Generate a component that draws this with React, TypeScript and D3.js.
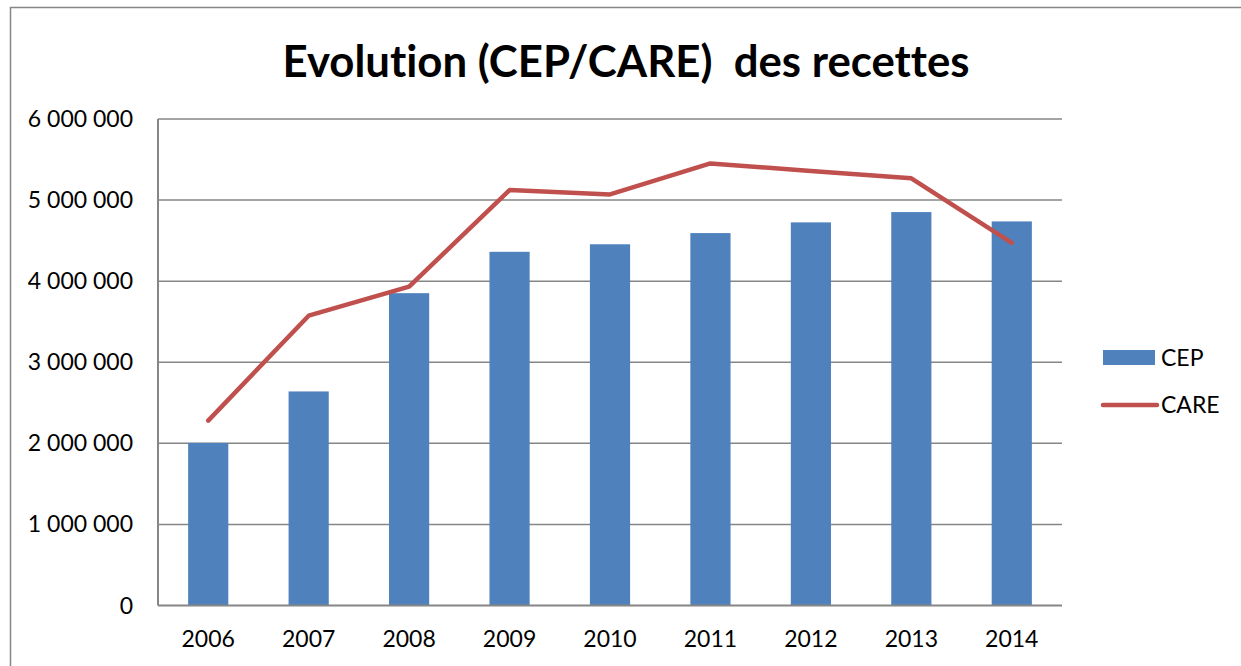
import React, { useEffect } from "react";
import * as d3 from "d3";

const years = ["2006", "2007", "2008", "2009", "2010", "2011", "2012", "2013", "2014"];
const cep = [2005000, 2640000, 3852000, 4362000, 4455000, 4593000, 4725000, 4852000, 4737000];
const care = [2280000, 3574000, 3932000, 5123000, 5070000, 5452000, 5360000, 5268000, 4473000];
const yTicks = [0, 1000000, 2000000, 3000000, 4000000, 5000000, 6000000];
const seriesNames = ["CEP", "CARE"];
const title = "Evolution (CEP/CARE)\u00a0\u00a0des recettes";

const W = 1241;
const H = 666;
const plot = { left: 158, right: 1062, top: 119, bottom: 605.5 };
const FONT = "Lato, 'Open Sans', sans-serif";
const FS = 23;

export default function App() {
  useEffect(() => {
    document.body.style.margin = "0";
  }, []);

  const x = d3.scaleBand<string>().domain(years).range([plot.left, plot.right]).paddingInner(0.6).paddingOuter(0.3);
  const xc = d3.scaleBand<string>().domain(years).range([plot.left, plot.right]);
  const y = d3.scaleLinear().domain([0, 6000000]).range([plot.bottom, plot.top]);
  const fmt = (v: number) => d3.format(",")(v).replace(/,/g, " ");
  const line = d3
    .line<number>()
    .x((_, i) => (xc(years[i]) as number) + xc.bandwidth() / 2)
    .y((d) => y(d));

  const grid = "#868686";
  return (
    <svg width={W} height={H} style={{ display: "block", position: "absolute", left: 0, top: 0 }}>
      <rect x={0} y={0} width={W} height={H} fill="#fff" />
      <rect x={10.5} y={7.5} width={W + 20} height={H + 20} fill="none" stroke={grid} strokeWidth={1.5} />
      <text
        x={626}
        y={77}
        textAnchor="middle"
        fontFamily={FONT}
        fontWeight="bold"
        fontSize={44}
        textLength={687}
        lengthAdjust="spacingAndGlyphs"
        fill="#000"
        style={{ fontVariantLigatures: "none" }}
      >
        {title}
      </text>
      {yTicks.map((t) => (
        <g key={t}>
          {t > 0 && (
            <line x1={plot.left} x2={plot.right} y1={y(t)} y2={y(t)} stroke={grid} strokeWidth={1.5} />
          )}
          <text x={133} y={y(t) + 8} textAnchor="end" fontFamily={FONT} fontSize={FS} fill="#000">
            {fmt(t)}
          </text>
        </g>
      ))}
      {years.map((yr, i) => (
        <rect
          key={yr}
          x={x(yr)}
          y={y(cep[i])}
          width={x.bandwidth()}
          height={y(0) - y(cep[i])}
          fill="#4F81BD"
        />
      ))}
      <line x1={plot.left} x2={plot.left} y1={plot.top} y2={plot.bottom} stroke={grid} strokeWidth={2} />
      <line x1={plot.left} x2={plot.right} y1={plot.bottom} y2={plot.bottom} stroke={grid} strokeWidth={2} />
      {years.map((yr) => (
        <text
          key={yr}
          x={(xc(yr) as number) + xc.bandwidth() / 2}
          y={647}
          textAnchor="middle"
          fontFamily={FONT}
          fontSize={FS}
          fill="#000"
        >
          {yr}
        </text>
      ))}
      <path d={line(care) || ""} fill="none" stroke="#C0504D" strokeWidth={4.5} strokeLinejoin="round" strokeLinecap="round" />
      <rect x={1103} y={350} width={52} height={15} fill="#4F81BD" />
      <text x={1161} y={366} fontFamily={FONT} fontSize={FS} fill="#000">
        {seriesNames[0]}
      </text>
      <line x1={1103} x2={1157} y1={405} y2={405} stroke="#C0504D" strokeWidth={4.5} strokeLinecap="round" />
      <text x={1161} y={413} fontFamily={FONT} fontSize={FS} fill="#000">
        {seriesNames[1]}
      </text>
    </svg>
  );
}
